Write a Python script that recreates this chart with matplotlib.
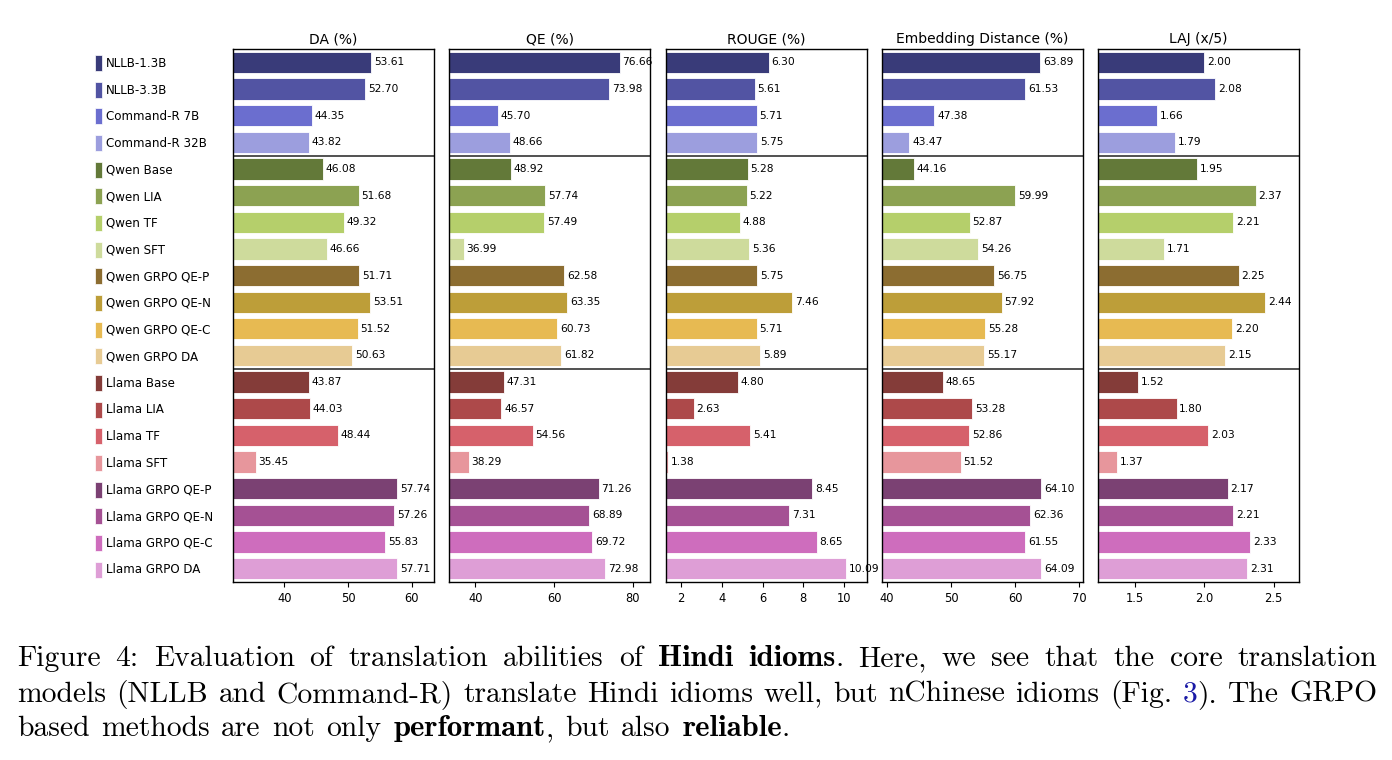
import numpy as np
import matplotlib
matplotlib.use("Agg")
import matplotlib.pyplot as plt
from matplotlib.patches import Patch

# ---------------- data ----------------
models = ["NLLB-1.3B", "NLLB-3.3B", "Command-R 7B", "Command-R 32B",
          "Qwen Base", "Qwen LIA", "Qwen TF", "Qwen SFT",
          "Qwen GRPO QE-P", "Qwen GRPO QE-N", "Qwen GRPO QE-C", "Qwen GRPO DA",
          "Llama Base", "Llama LIA", "Llama TF", "Llama SFT",
          "Llama GRPO QE-P", "Llama GRPO QE-N", "Llama GRPO QE-C", "Llama GRPO DA"]

da = [53.61, 52.70, 44.35, 43.82, 46.08, 51.68, 49.32, 46.66, 51.71, 53.51,
      51.52, 50.63, 43.87, 44.03, 48.44, 35.45, 57.74, 57.26, 55.83, 57.71]
qe = [76.66, 73.98, 45.70, 48.66, 48.92, 57.74, 57.49, 36.99, 62.58, 63.35,
      60.73, 61.82, 47.31, 46.57, 54.56, 38.29, 71.26, 68.89, 69.72, 72.98]
rouge = [6.30, 5.61, 5.71, 5.75, 5.28, 5.22, 4.88, 5.36, 5.75, 7.46,
         5.71, 5.89, 4.80, 2.63, 5.41, 1.38, 8.45, 7.31, 8.65, 10.09]
emb = [63.89, 61.53, 47.38, 43.47, 44.16, 59.99, 52.87, 54.26, 56.75, 57.92,
       55.28, 55.17, 48.65, 53.28, 52.86, 51.52, 64.10, 62.36, 61.55, 64.09]
laj = [2.00, 2.08, 1.66, 1.79, 1.95, 2.37, 2.21, 1.71, 2.25, 2.44,
       2.20, 2.15, 1.52, 1.80, 2.03, 1.37, 2.17, 2.21, 2.33, 2.31]

metric_titles = ["DA (%)", "QE (%)", "ROUGE (%)", "Embedding Distance (%)", "LAJ (x/5)"]
metric_values = [da, qe, rouge, emb, laj]
metric_ticks = [[40, 50, 60], [40, 60, 80], [2, 4, 6, 8, 10],
                [40, 50, 60, 70], [1.5, 2.0, 2.5]]
group_breaks = [3.5, 11.5]

colors = ["#393b79", "#5254a3", "#6b6ecf", "#9c9ede",
          "#637939", "#8ca252", "#b5cf6b", "#cedb9c",
          "#8c6d31", "#bd9e39", "#e7ba52", "#e7cb94",
          "#843c39", "#ad494a", "#d6616b", "#e7969c",
          "#7b4173", "#a55194", "#ce6dbd", "#de9ed6"]

# ---------------- figure ----------------
W, H = 1392, 760
fig = plt.figure(figsize=(W / 100, H / 100), dpi=100)
fig.patch.set_facecolor("white")

ax_lefts = [233, 449, 665.5, 881.5, 1098]
ax_w = 201
ax_top, ax_bot = 49, 582

for left, title, vals, ticks in zip(ax_lefts, metric_titles, metric_values, metric_ticks):
    ax = fig.add_axes([left / W, (H - ax_bot) / H, ax_w / W, (ax_bot - ax_top) / H])
    y = np.arange(len(vals))
    bars = ax.barh(y, vals, height=0.8, color=colors, edgecolor="white", linewidth=0.6)
    ax.set_ylim(len(vals) - 0.5, -0.5)
    ax.set_xlim(min(vals) * 0.9, max(vals) * 1.1)
    ax.set_xticks(ticks)
    ax.set_yticks([])
    ax.tick_params(axis="x", labelsize=8.3, length=3.5, width=0.8)
    ax.bar_label(bars, fmt="{:.2f}", padding=2, fontsize=7.7)
    for b in group_breaks:
        ax.axhline(b, color="#333333", lw=1.2)
    for sp in ax.spines.values():
        sp.set_linewidth(1.0)
        sp.set_color("black")
    ax.set_title(title, fontsize=10, pad=4)

# legend on the left
fs_leg = 8.6
fs_px = fs_leg * 100 / 72
handles = [Patch(facecolor=c, edgecolor="white", linewidth=0.5) for c in colors]
fig.legend(handles, models, loc="upper left",
           bbox_to_anchor=(95 / W, 1 - 55 / H), bbox_transform=fig.transFigure,
           frameon=False, fontsize=fs_leg,
           handlelength=7 / fs_px, handleheight=1.685,
           handletextpad=4 / fs_px, labelspacing=(26.65 - 16) / fs_px,
           borderpad=0, borderaxespad=0)

# ---------------- caption ----------------
CAP_FS_R = 21.3
CAP_FS_B = 22.2
R, B, L = "r", "b", "l"
cap_lines = [
    ([[("Figure", R)], [("4:", R)], [("Evaluation", R)], [("of", R)], [("translation", R)],
      [("abilities", R)], [("of", R)], [("Hindi", B)], [("idioms", B), (".", R)],
      [("Here,", R)], [("we", R)], [("see", R)], [("that", R)], [("the", R)],
      [("core", R)], [("translation", R)]], True, 666),
    ([[("models", R)], [("(NLLB", R)], [("and", R)], [("Command-R)", R)], [("translate", R)],
      [("Hindi", R)], [("idioms", R)], [("well,", R)], [("but", R)], [("nChinese", R)],
      [("idioms", R)], [("(Fig.", R)], [("3", L), (").", R)], [("The", R)], [("GRPO", R)]],
     True, 701.7),
    ([[("based", R)], [("methods", R)], [("are", R)], [("not", R)], [("only", R)],
      [("performant", B), (",", R)], [("but", R)], [("also", R)], [("reliable", B), (".", R)]],
     False, 736),
]
cap_left, cap_right = 17, 1377

renderer = fig.canvas.get_renderer()


def make_piece(s, style):
    fam = "cmb10" if style == B else "cmr10"
    fs = CAP_FS_B if style == B else CAP_FS_R
    col = "#1a1aa6" if style == L else "black"
    return fig.text(0, 0, s, family=fam, fontsize=fs, color=col,
                    va="baseline", ha="left")


space_w = 0.39 * CAP_FS_R * 100 / 72

for words, justify, base in cap_lines:
    word_objs = []
    total = 0.0
    for w in words:
        pieces = []
        for s, st in w:
            t = make_piece(s, st)
            pw = t.get_window_extent(renderer).width
            pieces.append((t, pw))
            total += pw
        word_objs.append(pieces)
    if justify:
        gap = (cap_right - cap_left - total) / (len(words) - 1)
    else:
        gap = space_w
    x = cap_left
    for pieces in word_objs:
        for t, pw in pieces:
            t.set_position((x / W, 1 - base / H))
            x += pw
        x += gap

fig.savefig("out.png", dpi=100, facecolor="white")
